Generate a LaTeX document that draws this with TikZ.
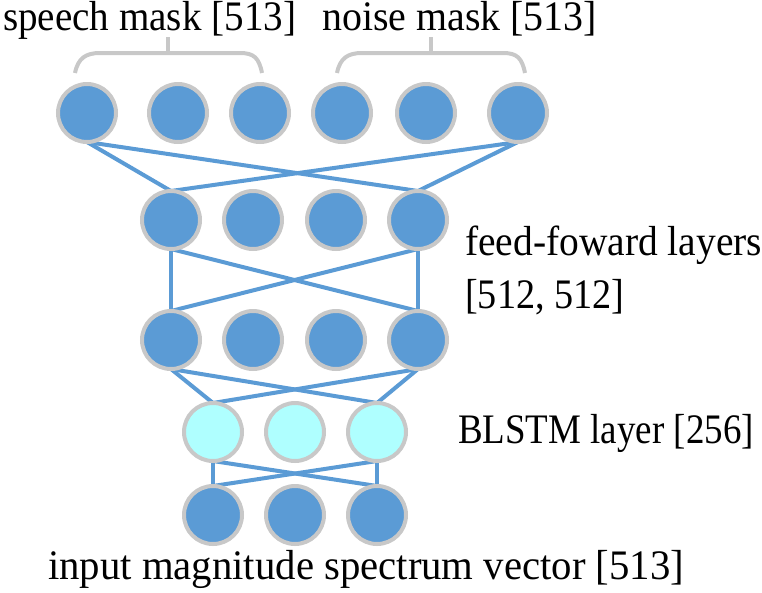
\documentclass[tikz,border=0pt]{standalone}
\usepackage{fontspec}
\setmainfont{Liberation Serif}
\usetikzlibrary{backgrounds}
\definecolor{nodeblue}{HTML}{5B9BD5}
\definecolor{nodecyan}{HTML}{AFFFFF}
\definecolor{rimgray}{HTML}{C8C8C8}
\newcommand{\squeezetext}[2]{\scalebox{#1}[1]{#2}}
\tikzset{
  neuron/.style={circle, draw=rimgray, line width=4pt, fill=nodeblue, minimum size=58pt, inner sep=0pt, outer sep=0pt},
  lstm/.style={neuron, fill=nodecyan},
  conn/.style={draw=nodeblue, line width=4pt},
  brace/.style={draw=rimgray, line width=4pt},
  lbl/.style={anchor=base west, inner sep=0pt, text height=29pt, font=\fontsize{42}{46}\selectfont}
}
\begin{document}
\begin{tikzpicture}[x=1pt,y=-1pt]
\useasboundingbox (0,0) rectangle (762,592);
% output layer
\node[neuron] (o1) at (87,113) {};
\node[neuron] (o2) at (178,113) {};
\node[neuron] (o3) at (260,113) {};
\node[neuron] (o4) at (342,113) {};
\node[neuron] (o5) at (426,113) {};
\node[neuron] (o6) at (518,113) {};
% feed-forward 1
\node[neuron] (a1) at (171,220) {};
\node[neuron] (a2) at (253,220) {};
\node[neuron] (a3) at (336,220) {};
\node[neuron] (a4) at (418,220) {};
% feed-forward 2
\node[neuron] (b1) at (171,340) {};
\node[neuron] (b2) at (253,340) {};
\node[neuron] (b3) at (336,340) {};
\node[neuron] (b4) at (418,340) {};
% BLSTM
\node[lstm] (c1) at (213,432) {};
\node[lstm] (c2) at (295,432) {};
\node[lstm] (c3) at (377,432) {};
% input
\node[neuron] (d1) at (213,515) {};
\node[neuron] (d2) at (295,515) {};
\node[neuron] (d3) at (377,515) {};
\begin{scope}[on background layer]
\path[conn] (o1.south) -- (a1.north);
\path[conn] (o1.south) -- (a4.north);
\path[conn] (o6.south) -- (a1.north);
\path[conn] (o6.south) -- (a4.north);
\path[conn] (a1.south) -- (b1.north);
\path[conn] (a1.south) -- (b4.north);
\path[conn] (a4.south) -- (b1.north);
\path[conn] (a4.south) -- (b4.north);
\path[conn] (b1.south) -- (c1.north);
\path[conn] (b1.south) -- (c3.north);
\path[conn] (b4.south) -- (c1.north);
\path[conn] (b4.south) -- (c3.north);
\path[conn] (c1.south) -- (d1.north);
\path[conn] (c1.south) -- (d3.north);
\path[conn] (c3.south) -- (d1.north);
\path[conn] (c3.south) -- (d3.north);
\end{scope}
% braces
\coordinate (s1) at (75,73);
\coordinate (s2) at (262,73);
\coordinate (sm) at (168,53);
\coordinate (st) at (168,37);
\coordinate (n1) at (337,73);
\coordinate (n2) at (525,73);
\coordinate (nm) at (431,53);
\coordinate (nt) at (431,37);
\path[brace] (s1) .. controls (78,58) and (86,53) .. (100,53) -- (240,53) .. controls (254,53) and (259,58) .. (s2);
\path[brace] (sm) -- (st);
\path[brace] (n1) .. controls (340,58) and (348,53) .. (362,53) -- (503,53) .. controls (517,53) and (522,58) .. (n2);
\path[brace] (nm) -- (nt);
% labels
\node[lbl] (lsp) at (3,30) {\squeezetext{0.93}{speech mask [513]}};
\node[lbl] (lno) at (322,30) {\squeezetext{0.95}{noise mask [513]}};
\node[lbl] (lff) at (465,255) {\squeezetext{0.94}{feed-foward layers}};
\node[lbl] (lff2) at (465,308) {\squeezetext{0.91}{[512, 512]}};
\node[lbl] (lbl) at (458,443) {\squeezetext{0.88}{BLSTM layer [256]}};
\node[lbl] (lin) at (48,579) {\squeezetext{0.97}{input magnitude spectrum vector [513]}};
\end{tikzpicture}
\end{document}
